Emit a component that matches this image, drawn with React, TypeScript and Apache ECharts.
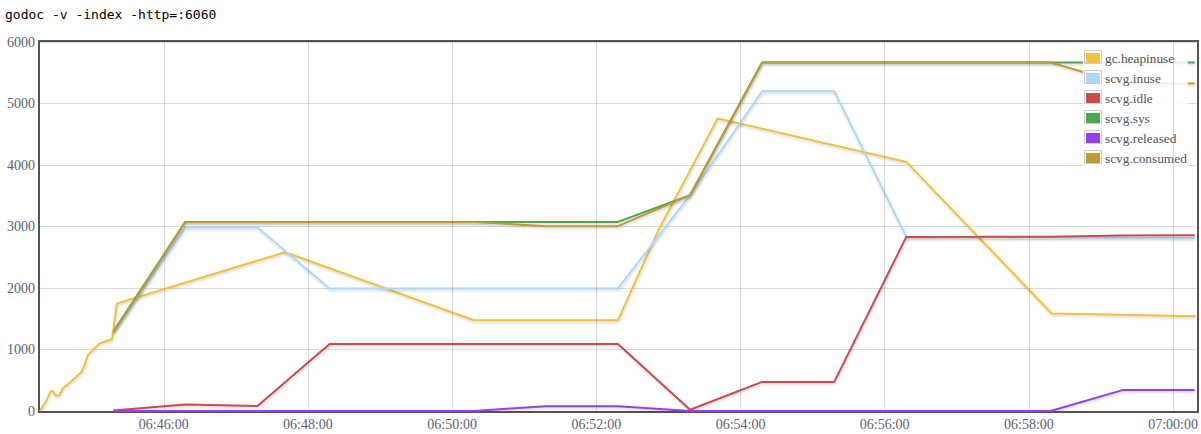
import React, { useEffect, useRef } from "react";
import * as echarts from "echarts";

// ---------- data ----------
const chartTitle = "godoc -v -index -http=:6060";

const seriesNames = [
  "gc.heapinuse",
  "scvg.inuse",
  "scvg.idle",
  "scvg.sys",
  "scvg.released",
  "scvg.consumed",
];

const seriesColors = ["#edc240", "#afd8f8", "#cb4b4b", "#4da74d", "#9440ed", "#be9b33"];

const gcTimes = [
  "06:44:17", "06:44:22", "06:44:26", "06:44:28", "06:44:30", "06:44:33",
  "06:44:36", "06:44:41", "06:44:46", "06:44:52", "06:44:57", "06:45:03",
  "06:45:07", "06:45:17", "06:45:21", "06:47:41", "06:50:18", "06:51:18",
  "06:52:18", "06:52:52", "06:53:41", "06:56:18", "06:58:19", "07:00:19",
];
const gcHeapinuse = [
  0, 154, 327, 317, 252, 252,
  371, 447, 533, 642, 912, 1033,
  1102, 1167, 1748, 2582, 1476, 1476,
  1476, 2951, 4756, 4050, 1585, 1541,
];

const scvgTimes = [
  "06:45:18", "06:46:18", "06:47:18", "06:48:18", "06:49:18", "06:50:18",
  "06:51:18", "06:52:18", "06:53:18", "06:54:18", "06:55:18", "06:56:18",
  "06:57:18", "06:58:18", "06:59:18", "07:00:18",
];
const scvgInuse = [1270, 2984, 2984, 1992, 1992, 1992, 1992, 1992, 3509, 5200, 5200, 2831, 2828, 2825, 2818, 2812];
const scvgIdle = [10, 106, 83, 1091, 1091, 1091, 1091, 1091, 20, 473, 473, 2831, 2832, 2835, 2852, 2858];
const scvgSys = [1286, 3075, 3075, 3075, 3075, 3075, 3075, 3075, 3509, 5667, 5667, 5667, 5667, 5667, 5667, 5667];
const scvgReleased = [0, 0, 0, 0, 0, 0, 78, 78, 0, 0, 0, 0, 0, 0, 340, 340];
const scvgConsumed = [1286, 3075, 3075, 3075, 3075, 3075, 3005, 3005, 3509, 5667, 5667, 5667, 5667, 5667, 5324, 5324];

const xTickLabels = [
  "06:46:00", "06:48:00", "06:50:00", "06:52:00", "06:54:00", "06:56:00", "06:58:00", "07:00:00",
];

const yMax = 6000;
const yStep = 1000;

// ---------- helpers ----------
function ts(s: string): number {
  const [h, m, sec] = s.split(":").map(Number);
  return new Date(2013, 0, 1, h, m, sec).getTime();
}
function pad(n: number) {
  return n < 10 ? "0" + n : "" + n;
}
function fmt(v: number) {
  const d = new Date(v);
  return pad(d.getHours()) + ":" + pad(d.getMinutes()) + ":" + pad(d.getSeconds());
}
function zip(times: string[], vals: number[]) {
  return times.map((t, i) => [ts(t), vals[i]]);
}

const seriesData = [
  zip(gcTimes, gcHeapinuse),
  zip(scvgTimes, scvgInuse),
  zip(scvgTimes, scvgIdle),
  zip(scvgTimes, scvgSys),
  zip(scvgTimes, scvgReleased),
  zip(scvgTimes, scvgConsumed),
];

const allTimes = [...gcTimes, ...scvgTimes].map(ts);
const xMin = Math.min(...allTimes);
const xMax = Math.max(...allTimes);
const xTickValues = xTickLabels.map(ts);

const tickFont = "Liberation Serif";
const tickColor = "#5b6170";
const gridLineColor = "rgba(84,84,84,0.22)";

export default function App() {
  const ref = useRef<HTMLDivElement>(null);

  useEffect(() => {
    if (!ref.current) return;
    const chart = echarts.init(ref.current, undefined, { renderer: "svg" });

    const legendLeft = 1083;
    const legendTop = 47;
    const rowH = 20;

    const legendBoxes = seriesNames.map((_, i) => ({
      type: "rect",
      z: 10,
      silent: true,
      shape: { x: legendLeft + 1.5, y: legendTop + 1 + rowH * i + 2.5, width: 17, height: 13 },
      style: { fill: "none", stroke: "#cccccc", lineWidth: 1 },
    }));

    chart.setOption({
      animation: false,
      title: {
        text: chartTitle,
        left: 5,
        top: 8,
        padding: 0,
        textStyle: {
          fontFamily: "DejaVu Sans Mono",
          fontSize: 13,
          fontWeight: "normal",
          color: "#000000",
        },
      },
      grid: {
        left: 40,
        top: 42,
        width: 1157,
        height: 369,
        show: false,
        containLabel: false,
      },
      legend: {
        data: seriesNames,
        orient: "vertical",
        left: legendLeft,
        top: legendTop,
        padding: [1, 1, 1, 3],
        itemGap: 0,
        itemWidth: 14,
        itemHeight: 10,
        icon: "rect",
        selectedMode: false,
        backgroundColor: "rgba(255,255,255,0.85)",
        itemStyle: { borderWidth: 0, shadowBlur: 0, shadowColor: "transparent" },
        textStyle: {
          fontFamily: tickFont,
          fontSize: 13.33,
          color: "#545454",
          lineHeight: rowH,
        },
      },
      xAxis: {
        type: "value",
        min: xMin,
        max: xMax,
        axisLine: { show: false },
        axisTick: { show: false, customValues: xTickValues },
        splitLine: { show: false },
        axisLabel: {
          customValues: xTickValues,
          formatter: (v: number) => fmt(v),
          fontFamily: tickFont,
          fontSize: 14,
          color: tickColor,
          margin: 6,
        },
      },
      yAxis: {
        type: "value",
        min: 0,
        max: yMax,
        interval: yStep,
        axisLine: { show: false },
        axisTick: { show: false },
        splitLine: { show: true, lineStyle: { color: gridLineColor, width: 1 } },
        axisLabel: {
          formatter: (v: number) => String(v),
          fontFamily: tickFont,
          fontSize: 14,
          color: tickColor,
          margin: 5,
        },
      },
      graphic: [
        {
          type: "rect",
          z: 1,
          silent: true,
          shape: { x: 39, y: 41, width: 1159, height: 371 },
          style: { fill: "none", stroke: "#545454", lineWidth: 2 },
        },
        ...legendBoxes,
      ],
      series: [
        ...seriesNames.map((name, i) => ({
          name,
          type: "line",
          data: seriesData[i],
          showSymbol: false,
          symbol: "none",
          color: seriesColors[i],
          itemStyle: { color: seriesColors[i] },
          lineStyle: {
            color: seriesColors[i],
            width: 2,
            shadowColor: "rgba(0,0,0,0.18)",
            shadowBlur: 2,
            shadowOffsetX: 0.5,
            shadowOffsetY: 1.5,
          },
          emphasis: { disabled: true },
          z: 2,
        })),
        {
          name: "xgrid",
          type: "line",
          data: [],
          silent: true,
          z: 0,
          markLine: {
            silent: true,
            symbol: "none",
            label: { show: false },
            lineStyle: { color: gridLineColor, width: 1, type: "solid" },
            emphasis: { disabled: true },
            data: xTickValues.map((v) => ({ xAxis: v })),
          },
        },
      ],
    });

    return () => chart.dispose();
  }, []);

  return (
    <div
      ref={ref}
      style={{ position: "absolute", left: 0, top: 0, width: 1201, height: 434, background: "#fff" }}
    />
  );
}
